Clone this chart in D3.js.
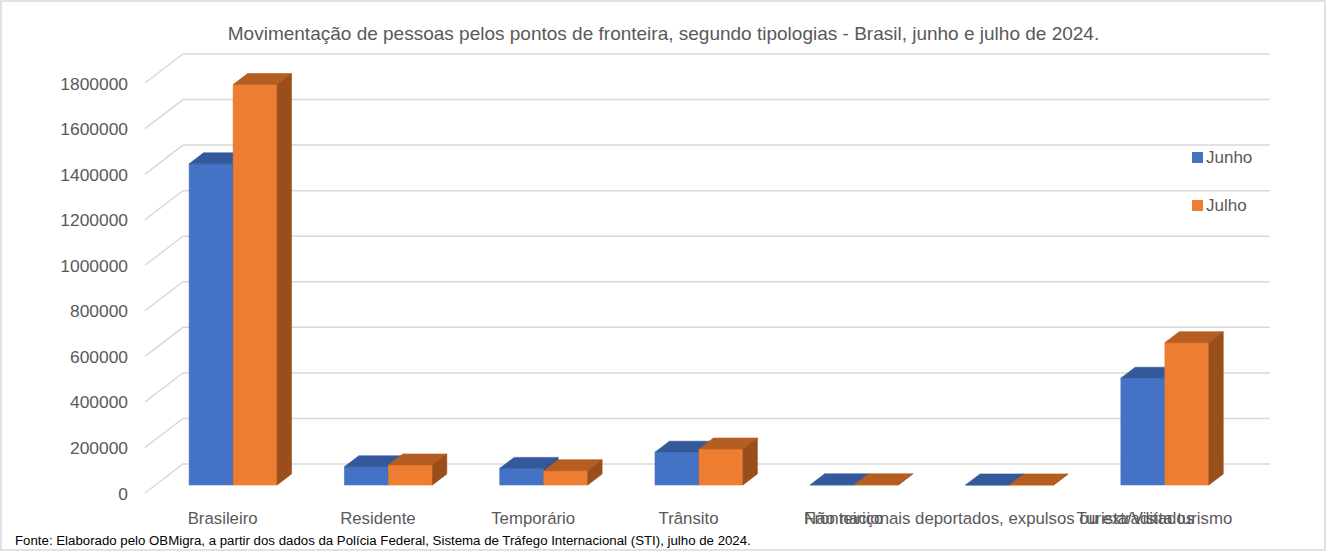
<!DOCTYPE html>
<html>
<head>
<meta charset="utf-8">
<script src="https://cdn.jsdelivr.net/npm/d3@7"></script>
<style>
    body { margin: 0; background: #fff; }
    svg { display: block; font-family: "Liberation Sans", Arial, sans-serif; }
</style>
</head>
<body>
<div id="chart"></div>
<script>
const categories = ["Brasileiro", "Residente", "Temporário", "Trânsito", "Fronteiriço",
    "Não nacionais deportados, expulsos ou extraditados", "Turista/Visita turismo"]
const seriesNames = ["Junho", "Julho"]
const junho = [1410000, 80000, 73000, 144000, 900, 300, 469000]
const julho = [1758000, 88000, 63000, 158000, 1100, 400, 625000]
const yTicks = [0, 200000, 400000, 600000, 800000, 1000000, 1200000, 1400000, 1600000, 1800000]
const titleText = "Movimentação de pessoas pelos pontos de fronteira, segundo tipologias - Brasil,  junho e julho de 2024."
const sourceText = "Fonte: Elaborado pelo OBMigra, a partir dos dados da Polícia Federal, Sistema de Tráfego Internacional (STI), julho  de 2024."

const W = 1327, H = 552
const colors = {
    Junho: { front: "#4472c4", top: "#34599a", side: "#2c4d86" },
    Julho: { front: "#ed7d31", top: "#b55e22", side: "#9a4e1c" }
}
const textColor = "#595959"
const gridColor = "#d9d9d9"

const svg = d3.select("#chart").append("svg")
    .attr("width", W)
    .attr("height", H)

// outer frame
svg.append("rect")
    .attr("x", 1).attr("y", 1)
    .attr("width", W - 3).attr("height", H - 3)
    .attr("fill", "#fff")
    .attr("stroke", gridColor)
    .attr("stroke-width", 1.5)

// front plane scales + depth (oblique projection)
const x = d3.scaleBand().domain(categories).range([145, 1232]).padding(0)
const xs = d3.scaleBand().domain(seriesNames).range([0, x.bandwidth()]).paddingOuter(0.765).paddingInner(0)
const y = d3.scaleLinear().domain([0, 1800000]).range([493, 83])
const depthX = d3.scaleLinear().domain([0, 1]).range([0, 38])
const depthY = d3.scaleLinear().domain([0, 1]).range([0, -29])
const f1 = 0.276, f2 = 0.655

const P = (px, v, f) => [px + depthX(f), y(v) + depthY(f)]
const line = d3.line()

// gridlines: side wall diagonal + back wall
svg.append("g")
    .selectAll("path")
    .data(yTicks)
    .enter().append("path")
    .attr("d", v => line([P(x.range()[0], v, 0), P(x.range()[0], v, 1), P(x.range()[1], v, 1)]))
    .attr("fill", "none")
    .attr("stroke", gridColor)
    .attr("stroke-width", 1.5)

// y labels
svg.append("g")
    .selectAll("text")
    .data(yTicks)
    .enter().append("text")
    .attr("x", 128)
    .attr("y", v => y(v) + 2)
    .attr("text-anchor", "end")
    .attr("dominant-baseline", "middle")
    .attr("font-size", 17.4)
    .attr("fill", textColor)
    .text(v => v)

// bars, drawn left to right, Junho before Julho
const values = { Junho: junho, Julho: julho }
const bars = []
categories.forEach((c, i) => {
    seriesNames.forEach(s => bars.push({ cat: c, series: s, value: values[s][i] }))
})

const barG = svg.append("g").selectAll("g")
    .data(bars)
    .enter().append("g")

barG.each(function (d) {
    const g = d3.select(this)
    const x0 = x(d.cat) + xs(d.series)
    const x1 = x0 + xs.bandwidth()
    const c = colors[d.series]
    const faces = [
        { fill: c.front, pts: [P(x0, 0, f1), P(x1, 0, f1), P(x1, d.value, f1), P(x0, d.value, f1)] },
        { fill: c.top, pts: [P(x0, d.value, f1), P(x1, d.value, f1), P(x1, d.value, f2), P(x0, d.value, f2)] },
        { fill: c.side, pts: [P(x1, 0, f1), P(x1, 0, f2), P(x1, d.value, f2), P(x1, d.value, f1)] }
    ]
    g.selectAll("path")
        .data(faces)
        .enter().append("path")
        .attr("d", f => line(f.pts) + "Z")
        .attr("fill", f => f.fill)
        .attr("stroke", f => f.fill)
        .attr("stroke-width", 0.6)
        .attr("stroke-linejoin", "round")
})

// category labels (the long ones overlap in the original too)
svg.append("g")
    .selectAll("text")
    .data(categories)
    .enter().append("text")
    .attr("x", c => x(c) + x.bandwidth() / 2)
    .attr("y", 524)
    .attr("text-anchor", "middle")
    .attr("font-size", 16.8)
    .attr("fill", textColor)
    .text(c => c)

// legend
const legend = svg.append("g").selectAll("g")
    .data(seriesNames)
    .enter().append("g")
    .attr("transform", (d, i) => "translate(1192," + (152 + i * 48) + ")")

legend.append("rect")
    .attr("width", 11).attr("height", 11)
    .attr("fill", d => colors[d].front)

legend.append("text")
    .attr("x", 14).attr("y", 11)
    .attr("font-size", 17)
    .attr("fill", textColor)
    .text(d => d)

// title
svg.append("text")
    .attr("x", W / 2)
    .attr("y", 40)
    .attr("text-anchor", "middle")
    .attr("font-size", 19)
    .attr("fill", textColor)
    .text(titleText)

// source note
svg.append("text")
    .attr("x", 15)
    .attr("y", 545)
    .attr("font-size", 13.25)
    .attr("fill", "#000")
    .text(sourceText)
</script>
</body>
</html>
